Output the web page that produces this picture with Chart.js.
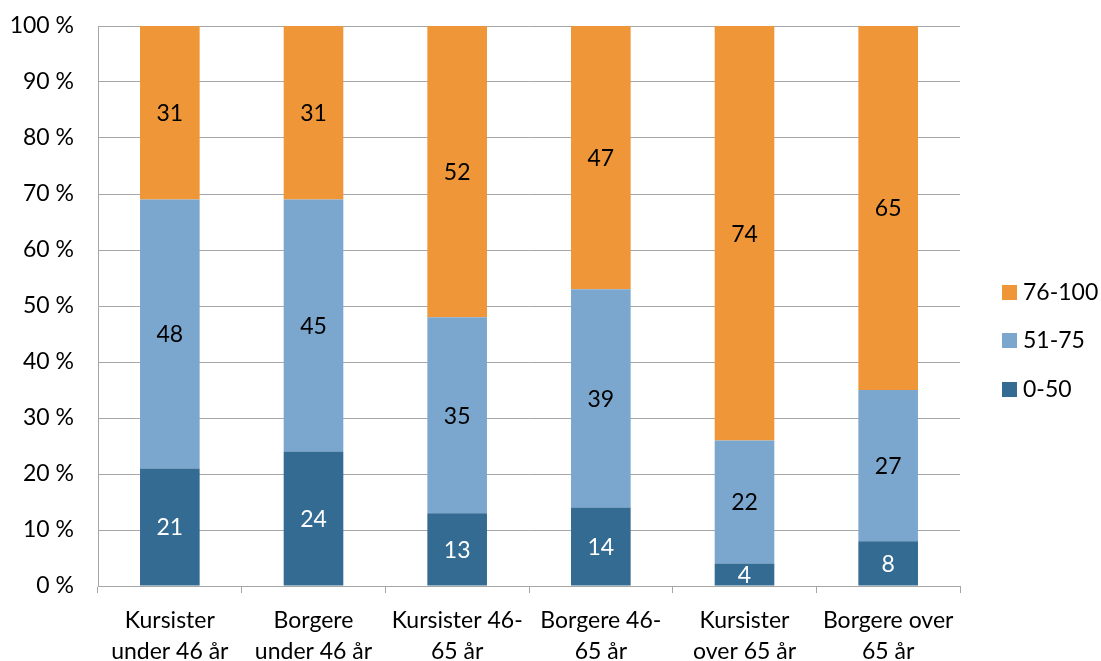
<!DOCTYPE html>
<html>
<head>
<meta charset="utf-8">
<script src="https://cdn.jsdelivr.net/npm/chart.js@4/dist/chart.umd.min.js"></script>
<style>
html,body{margin:0;padding:0;background:#fff;}
#wrap{width:1101px;height:661px;position:relative;}
</style>
</head>
<body>
<div id="wrap"><canvas id="c" width="1101" height="661"></canvas></div>
<script>
const categories = [
  ["Kursister", "under 46 år"],
  ["Borgere", "under 46 år"],
  ["Kursister 46-", "65 år"],
  ["Borgere 46-", "65 år"],
  ["Kursister", "over 65 år"],
  ["Borgere over", "65 år"]
];
const seriesNames = ["0-50", "51-75", "76-100"];
const values0to50 = [21, 24, 13, 14, 4, 8];
const values51to75 = [48, 45, 35, 39, 22, 27];
const values76to100 = [31, 31, 52, 47, 74, 65];
const yTicks = [0, 10, 20, 30, 40, 50, 60, 70, 80, 90, 100];

const colors = ["#336B92", "#7BA7CF", "#EE9638"];
const labelColors = ["#ffffff", "#000000", "#000000"];
const FONT = "Lato, 'Open Sans', sans-serif";
const FS = 23;

const valueLabels = {
  id: 'valueLabels',
  afterDatasetsDraw(chart) {
    const ctx = chart.ctx;
    ctx.save();
    ctx.font = FS + "px " + FONT;
    ctx.textAlign = 'center';
    ctx.textBaseline = 'middle';
    chart.data.datasets.forEach((ds, i) => {
      const meta = chart.getDatasetMeta(i);
      meta.data.forEach((bar, j) => {
        const y = (bar.y + bar.base) / 2;
        ctx.fillStyle = labelColors[i];
        ctx.fillText(String(ds.data[j]), bar.x, y + 1);
      });
    });
    ctx.restore();
  }
};

const customLegend = {
  id: 'customLegend',
  afterDraw(chart) {
    const ctx = chart.ctx;
    ctx.save();
    ctx.font = FS + "px " + FONT;
    ctx.textBaseline = 'middle';
    ctx.textAlign = 'left';
    const order = [2, 1, 0];
    const ys = [292, 340, 389];
    order.forEach((di, k) => {
      const ds = chart.data.datasets[di];
      ctx.fillStyle = ds.backgroundColor;
      ctx.fillRect(1002, ys[k] - 7, 15, 15);
      ctx.fillStyle = '#000';
      ctx.fillText(ds.label, 1023, ys[k] + 1);
    });
    ctx.restore();
  }
};

new Chart(document.getElementById('c'), {
  type: 'bar',
  data: {
    labels: categories,
    datasets: [
      { label: seriesNames[0], data: values0to50, backgroundColor: colors[0] },
      { label: seriesNames[1], data: values51to75, backgroundColor: colors[1] },
      { label: seriesNames[2], data: values76to100, backgroundColor: colors[2] }
    ]
  },
  options: {
    responsive: false,
    animation: false,
    devicePixelRatio: 1,
    layout: { padding: { top: 26, right: 141, bottom: 0, left: 0 } },
    datasets: { bar: { categoryPercentage: 1, barPercentage: 0.415, borderWidth: 0 } },
    plugins: { legend: { display: false }, tooltip: { enabled: false } },
    scales: {
      x: {
        stacked: true,
        afterFit(s) { s.height = 75; s.paddingLeft = 0; s.paddingRight = 0; },
        grid: { display: true, offset: true, drawOnChartArea: false, drawTicks: true, tickLength: 7, color: '#A6A6A6', lineWidth: 1 },
        border: { display: true, color: '#A6A6A6', width: 1 },
        ticks: { color: '#000', font: { family: FONT, size: FS, lineHeight: 1.35 }, padding: 12, maxRotation: 0, autoSkip: false }
      },
      y: {
        stacked: true,
        min: 0, max: 100,
        afterFit(s) { s.width = 98; s.paddingTop = 0; s.paddingBottom = 0; },
        afterBuildTicks(s) { s.ticks = yTicks.map(v => ({ value: v })); },
        grid: { color: '#A6A6A6', lineWidth: 1, drawTicks: false },
        border: { display: true, color: '#A6A6A6', width: 1 },
        ticks: { color: '#000', font: { family: FONT, size: FS }, padding: 24, callback: v => v + ' %' }
      }
    }
  },
  plugins: [valueLabels, customLegend]
});
</script>
</body>
</html>
